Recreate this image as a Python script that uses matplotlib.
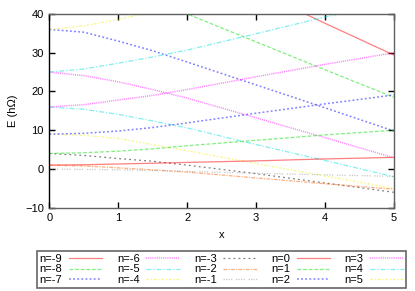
import matplotlib
matplotlib.use('Agg')
import matplotlib.pyplot as plt

plt.rcParams['font.family'] = ['Liberation Sans', 'DejaVu Sans']

# sample points along x
x_vals = [0, 0.5, 1, 1.5, 2, 3, 4, 5]

e_m9 = [64, 62.0, 59.5, 56.7, 53.5, 46.0, 37.6, 29.4]
e_m8 = [49, 47.5, 45.5, 43.0, 40.0, 32.8, 25.6, 18.5]
e_m7 = [36, 35.3, 33.0, 30.5, 27.6, 21.7, 15.8, 9.8]
e_m6 = [25, 24.1, 22.5, 20.5, 18.3, 13.2, 8.1, 2.9]
e_m5 = [16, 15.4, 14.1, 12.4, 10.6, 6.3, 2.2, -2.0]
e_m4 = [9, 8.7, 7.9, 6.3, 4.7, 1.4, -1.8, -5.0]
e_m3 = [4, 3.5, 2.7, 2.0, 1.0, -1.2, -3.6, -6.0]
e_m2 = [1, 0.8, 0.3, -0.2, -0.8, -2.3, -3.8, -5.2]
e_m1 = [0, -0.1, -0.2, -0.4, -0.6, -1.1, -1.5, -1.9]
e_p0 = [1.0, 1.1, 1.3, 1.5, 1.7, 2.1, 2.6, 3.0]
e_p1 = [4, 4.2, 4.6, 5.2, 6.0, 7.4, 8.8, 10.0]
e_p2 = [9, 9.2, 9.8, 10.7, 11.9, 14.4, 16.8, 19.1]
e_p3 = [16, 16.6, 17.8, 19.0, 20.5, 23.8, 27.0, 30.0]
e_p4 = [25, 25.8, 27.3, 28.9, 30.7, 34.9, 39.2, 43.0]
e_p5 = [36, 36.9, 38.6, 40.5, 42.5, 47.0, 52.0, 57.0]

n_values = list(range(-9, 6))
series = [e_m9, e_m8, e_m7, e_m6, e_m5, e_m4, e_m3, e_m2, e_m1,
          e_p0, e_p1, e_p2, e_p3, e_p4, e_p5]

# gnuplot-like line type cycle
colors = ['#ff0000', '#00e000', '#0000ff', '#ff00ff', '#00e0e0',
          '#f0f000', '#000000', '#ff6000', '#909090']
dashes = [None, (3, 1.5), (1.2, 1.5), (0.7, 0.7), (4, 1.5, 1, 1.5),
          (2, 1.5, 1, 1.5), (1.5, 2.5), (3, 1, 1, 1), (1, 1, 1, 1, 1, 1, 1, 3)]
widths = [0.9, 0.9, 1.1, 1.1, 0.9, 0.9, 0.9, 0.9, 0.9]

fig = plt.figure(figsize=(4.15, 2.91), dpi=100)
ax = fig.add_axes([0.119, 0.286, 0.830, 0.666])

for i, (n, e) in enumerate(zip(n_values, series)):
    k = i % 9
    line, = ax.plot(x_vals, e, color=colors[k], lw=widths[k], alpha=0.5,
                    label=f'n={n}')
    if dashes[k] is not None:
        line.set_dashes(dashes[k])

ax.set_xlim(0, 5)
ax.set_ylim(-10, 40)
ax.set_xticks(range(0, 6))
ax.set_yticks(range(-10, 41, 10))
ax.tick_params(direction='in', length=4, width=1, top=True, right=True,
               labelsize=8, pad=4, colors='black')
for side in ['top', 'right', 'bottom']:
    ax.spines[side].set_color('#606060')
ax.spines['left'].set_color('black')
for s in ax.spines.values():
    s.set_linewidth(1)

ax.set_xlabel('x', fontsize=8, labelpad=5)
ax.set_ylabel('E (hΩ)', fontsize=8, labelpad=5)

leg = fig.legend(loc='upper center', bbox_to_anchor=(0.534, 0.137), ncol=5,
                 fontsize=8, markerfirst=False, frameon=True, fancybox=False,
                 handlelength=3.0, handletextpad=0.6, columnspacing=1.3,
                 labelspacing=0.05, borderpad=0.25, borderaxespad=0)
leg.get_frame().set_edgecolor('#404040')
leg.get_frame().set_linewidth(1.2)

fig.savefig('out.png', dpi=100)
